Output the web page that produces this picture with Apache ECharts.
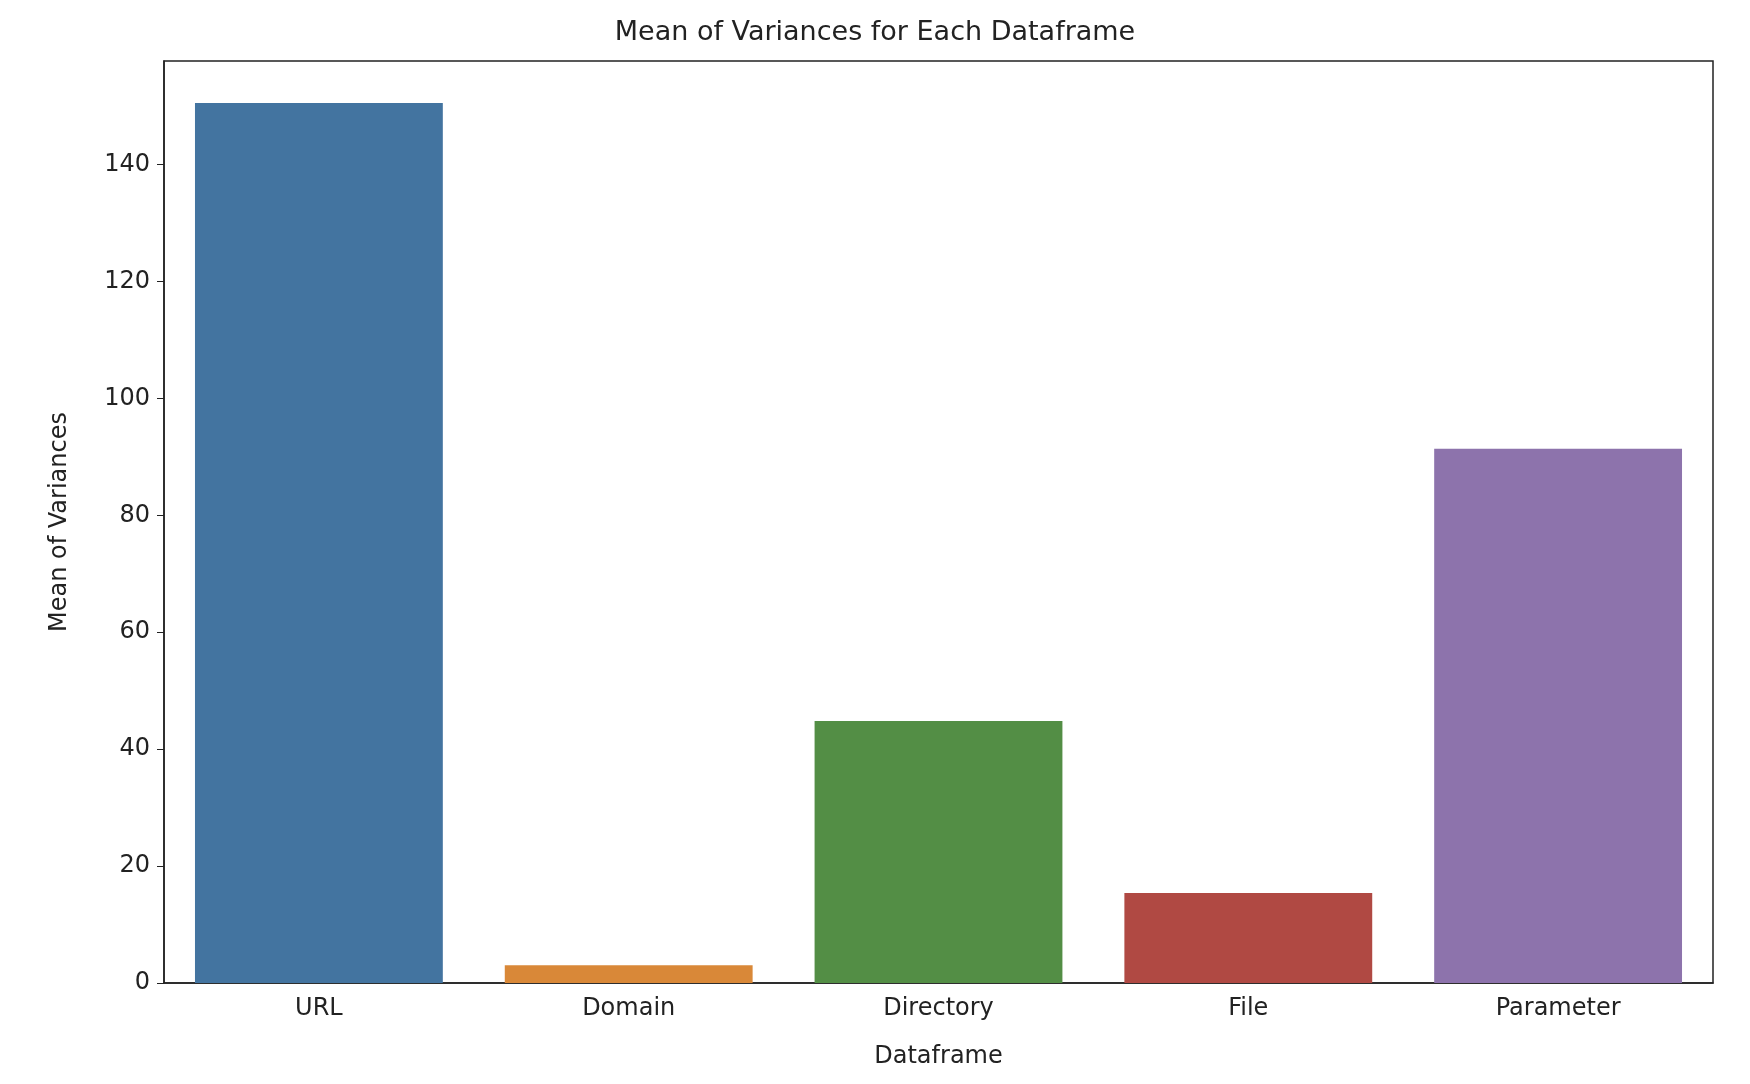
<!DOCTYPE html>
<html>
<head>
<meta charset="utf-8">
<script src="https://cdn.jsdelivr.net/npm/echarts@6/dist/echarts.min.js"></script>
<style>html,body{margin:0;padding:0;background:#fff}#main{width:1750px;height:1084px}</style>
</head>
<body>
<div id="main"></div>
<script>
var categories = ['URL', 'Domain', 'Directory', 'File', 'Parameter'];
var values = [150.5, 3.05, 44.8, 15.4, 91.4];
var colors = ['#4374a0', '#d98838', '#538e45', '#b04943', '#8d73ac'];
var yTicks = [0, 20, 40, 60, 80, 100, 120, 140];

var chart = echarts.init(document.getElementById('main'));
var font = 'DejaVu Sans';
chart.setOption({
	title: {
		text: 'Mean of Variances for Each Dataframe',
		left: 'center',
		top: 14,
		textStyle: {fontFamily: font, fontSize: 27, fontWeight: 'normal', color: '#222'}
	},
	grid: {left: 164, right: 37, top: 61, bottom: 101, show: true, borderColor: '#222', borderWidth: 1.5},
	xAxis: {
		type: 'category',
		data: categories,
		name: 'Dataframe',
		nameLocation: 'middle',
		nameGap: 62,
		nameTextStyle: {fontFamily: font, fontSize: 24, color: '#222'},
		axisLine: {lineStyle: {color: '#222', width: 1.5}},
		axisTick: {alignWithLabel: true, length: 7, lineStyle: {color: '#222'}},
		axisLabel: {fontFamily: font, fontSize: 24, color: '#222', margin: 14}
	},
	yAxis: {
		type: 'value',
		min: 0,
		max: 157.7,
		interval: 20,
		name: 'Mean of Variances',
		nameLocation: 'middle',
		nameGap: 92,
		nameTextStyle: {fontFamily: font, fontSize: 24, color: '#222'},
		splitLine: {show: false},
		axisLine: {show: true, lineStyle: {color: '#222', width: 1.5}},
		axisTick: {show: true, length: 7, lineStyle: {color: '#222'}},
		axisLabel: {fontFamily: font, fontSize: 24, color: '#222', margin: 14,
			showMaxLabel: false,
			formatter: function (v) { return yTicks.indexOf(v) >= 0 ? v : ''; }}
	},
	series: [{
		type: 'bar',
		barWidth: '80%',
		data: values.map(function (v, i) { return {value: v, itemStyle: {color: colors[i]}}; })
	}]
});
</script>
</body>
</html>
